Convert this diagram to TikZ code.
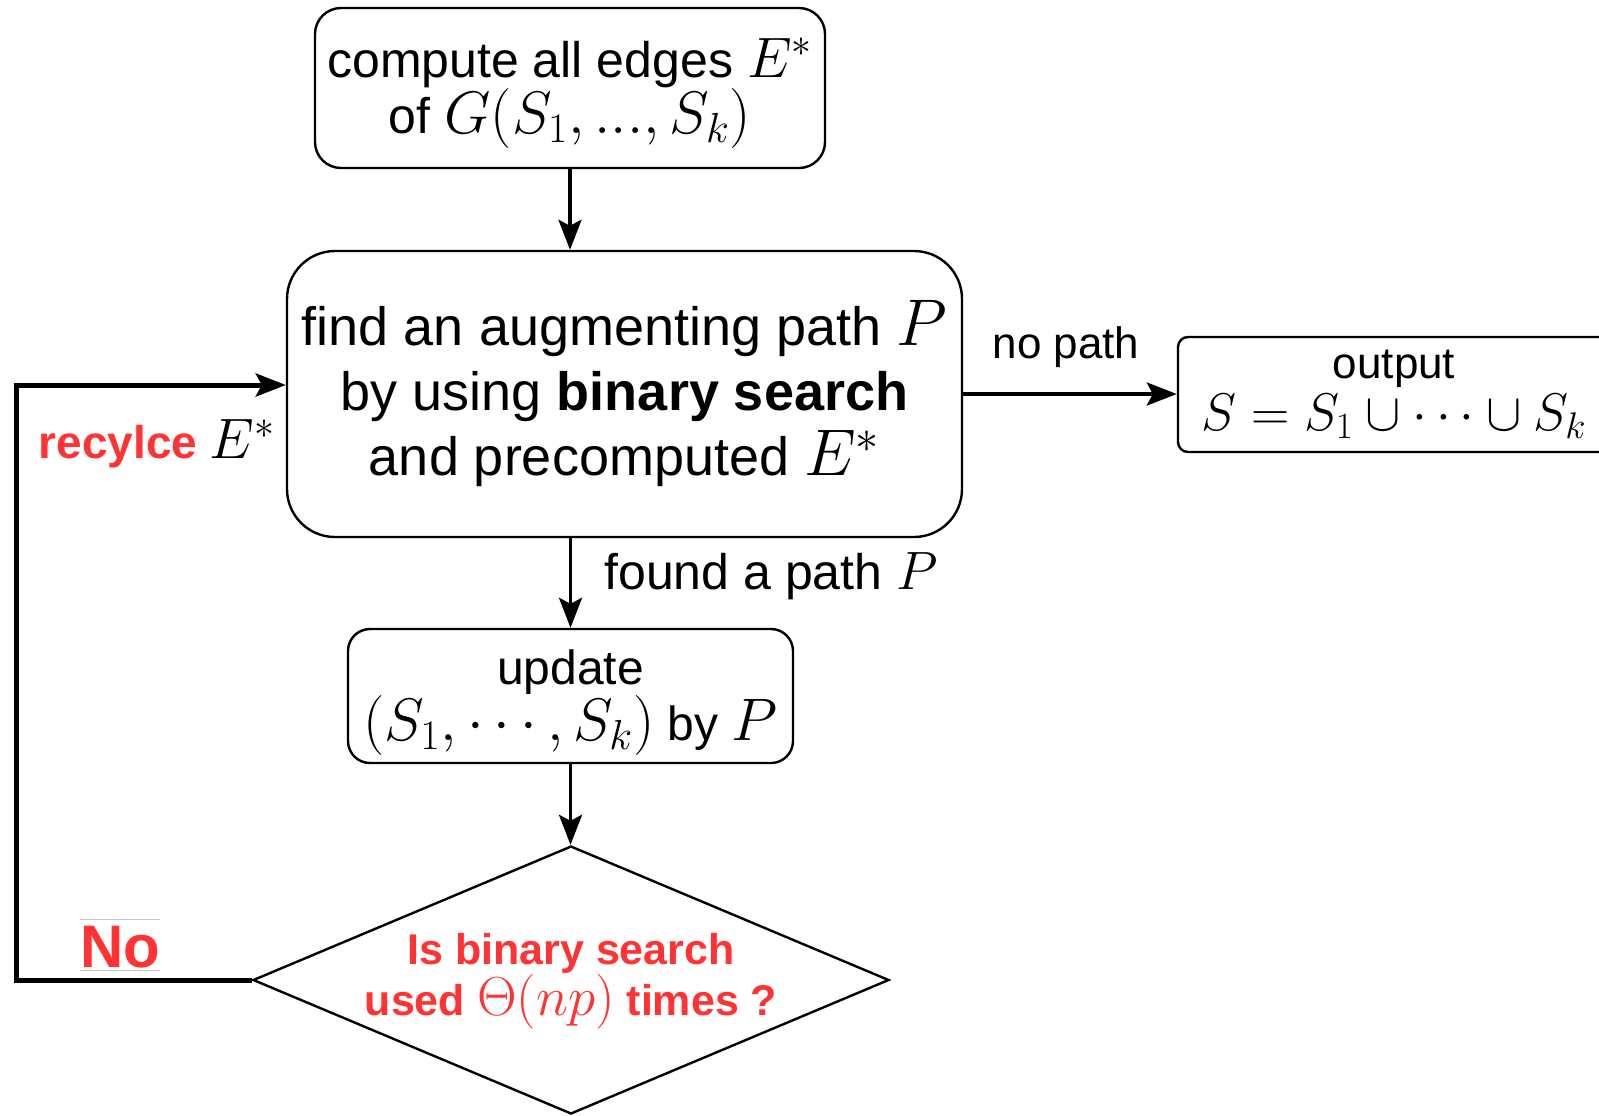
\RequirePackage{fix-cm}
\documentclass[tikz,border=0pt]{standalone}
\usepackage[no-math]{fontspec}
\setmainfont{Liberation Sans}
\usetikzlibrary{arrows.meta,shapes.geometric}
\definecolor{alertred}{RGB}{255,51,51}
% text size with a fixed baseline distance, and a math group in its own size
\newcommand\fsz[2]{\fontsize{#1pt}{#2pt}\selectfont\lineskiplimit=-100pt\lineskip=0pt}
\newcommand\mth[2]{{\fontsize{#1pt}{#1pt}\selectfont$#2$}}
% invisible struts that fix the extent of a text block above and below
\newcommand\upstrut[1]{\rule{0pt}{#1}}
\newcommand\dnstrut[1]{\rule[-#1]{0pt}{#1}}
\begin{document}
\begin{tikzpicture}[x=0.5pt,y=-0.5pt,
  box/.style={draw, line width=1.2pt, rounded corners=#1, inner sep=0pt, align=center},
  arr/.style={line width=1.8pt, -{Stealth[length=15pt,width=11.5pt,inset=3pt]}},
  loopline/.style={line width=2.5pt, line join=miter},
  lbl/.style={inner sep=0pt, align=center},
  warn/.style={text=alertred}]
\useasboundingbox (0,0) rectangle (1599,1115);

% process boxes
\node[box=13pt, minimum width=255pt, minimum height=80pt, font=\fsz{25}{28}] (comp) at (570,88)
  {\upstrut{29pt}compute all edges \mth{28.5}{E^*}\\ of \mth{30}{G(S_1,...,S_k)}\dnstrut{12pt}};
\node[box=24pt, minimum width=337.5pt, minimum height=143pt, font=\fsz{27}{32.5}] (find) at (624.5,394)
  {find an augmenting path \mth{33}{P}\\ by using \textbf{binary search}\\ and precomputed \mth{33}{E^*}};
\node[box=5pt, minimum width=216pt, minimum height=57.5pt, font=\fsz{22}{26}] (out) at (1394,394.5)
  {output\\ \mth{26.5}{S=S_1\cup\cdots\cup S_k}};
\node[box=11pt, minimum width=222.5pt, minimum height=67pt, font=\fsz{24}{28}] (upd) at (570.5,696)
  {\upstrut{26.5pt}update\\ \mth{30}{(S_1,\cdots,S_k)} by \mth{30}{P}\dnstrut{10pt}};

% decision
\node[diamond, draw, line width=1.2pt, minimum width=318pt, minimum height=134pt, inner sep=0pt] (dec) at (571,980) {};
\node[lbl, warn, font=\fsz{21.5}{25.5}\bfseries] (dectext) at (571,981)
  {Is binary search\\ used \mth{27.5}{\Theta(np)} times ?};

% connectors
\draw[arr] (comp.south) -- (comp.south |- find.north);
\draw[arr] (find.east) -- (find.east -| out.west);
\draw[arr] (upd.north |- find.south) -- (upd.north);
\draw[arr] (upd.south) -- (upd.south |- dec.north);
\coordinate (lft) at (16,385);
\draw[loopline, arr, line width=2.5pt] (dec.west) -| (lft) -- (lft -| find.west);

% edge labels
\node[lbl, font=\fsz{22}{26}] (nopath) at (1066,347) {no path};
\node[lbl, anchor=west, font=\fsz{25}{28}] (found) at (604,576) {found a path \mth{27}{P}};
\node[lbl, anchor=east, font=\fsz{23}{26}] (recy) at (276,444) {\textcolor{alertred}{\bfseries recylce} \mth{28.5}{E^*}};
\node[lbl, warn, font=\fsz{30}{34}\bfseries] (no) at (120,947) {No};
\draw[gray!45, line width=0.5pt] ([yshift=3pt]no.north west) -- ([yshift=3pt]no.north east);
\draw[gray!45, line width=0.5pt] ([yshift=-1pt]no.south west) -- ([yshift=-1pt]no.south east);
\end{tikzpicture}
\end{document}
